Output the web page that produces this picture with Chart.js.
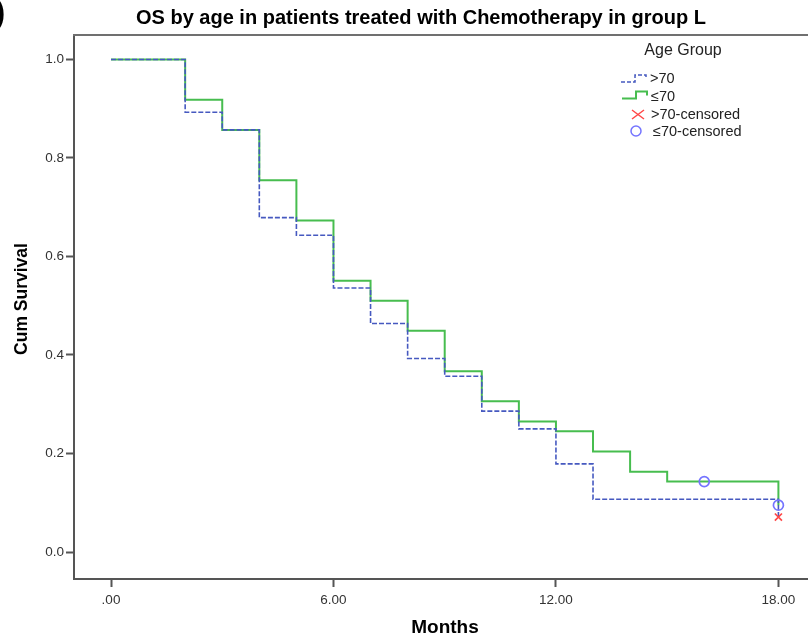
<!DOCTYPE html>
<html>
<head>
<meta charset="utf-8">
<script src="https://cdn.jsdelivr.net/npm/chart.js@4.4.0/dist/chart.umd.min.js"></script>
<style>
  html, body { margin: 0; padding: 0; background: #fff; overflow: hidden; }
  #wrap { position: relative; width: 808px; height: 639px; overflow: hidden; }
  canvas { position: absolute; left: 0; top: 0; }
</style>
</head>
<body>
<div id="wrap"><canvas id="km" width="850" height="639"></canvas></div>
<script>
const chartTitle = 'OS by age in patients treated with Chemotherapy in group L';
const xTitle = 'Months';
const yTitle = 'Cum Survival';
const legendTitle = 'Age Group';
const seriesLabels = ['>70', '≤70', '>70-censored', '≤70-censored'];

// Kaplan-Meier steps
const monthsOver70 = [0, 2, 3, 4, 5, 6, 7, 8, 9, 10, 11, 12, 13, 18];
const survOver70 = [1.0, 0.893, 0.857, 0.679, 0.643, 0.536, 0.464, 0.393, 0.357, 0.286, 0.25, 0.179, 0.107, 0.071];
const monthsUnder70 = [0, 2, 3, 4, 5, 6, 7, 8, 9, 10, 11, 12, 13, 14, 15, 18];
const survUnder70 = [1.0, 0.918, 0.857, 0.755, 0.673, 0.551, 0.51, 0.449, 0.367, 0.306, 0.265, 0.245, 0.204, 0.163, 0.143, 0.095];

// censored cases
const censMonthsOver70 = [18];
const censSurvOver70 = [0.071];
const censMonthsUnder70 = [16, 18];
const censSurvUnder70 = [0.143, 0.095];

const xTickValues = [0, 6, 12, 18];
const xTickLabels = ['.00', '6.00', '12.00', '18.00'];
const yTickValues = [0, 0.2, 0.4, 0.6, 0.8, 1.0];

const blue = '#4659c0';
const green = '#47bd4f';
const red = '#ff4848';
const violet = '#7474ff';

const toPoints = (xs, ys) => xs.map((x, i) => ({ x: x, y: ys[i] }));

const overlay = {
  id: 'overlay',
  afterDraw(chart) {
    const ctx = chart.ctx;
    const a = chart.chartArea;
    ctx.save();

    // top edge of the frame
    ctx.strokeStyle = '#707070';
    ctx.lineWidth = 2;
    ctx.beginPath();
    ctx.moveTo(a.left - 1, a.top);
    ctx.lineTo(a.right, a.top);
    ctx.stroke();

    ctx.fillStyle = '#000';
    ctx.textBaseline = 'middle';

    // cut-off panel letter at the top left
    ctx.textAlign = 'left';
    ctx.font = 'bold 34px "Liberation Sans", Arial, sans-serif';
    ctx.fillText(')', -6, 14);

    ctx.textAlign = 'center';
    ctx.font = 'bold 20px "Liberation Sans", Arial, sans-serif';
    ctx.fillText(chartTitle, 421, 18);

    ctx.font = 'bold 19px "Liberation Sans", Arial, sans-serif';
    ctx.fillText(xTitle, 445, 628);
    ctx.font = 'bold 17.5px "Liberation Sans", Arial, sans-serif';
    ctx.save();
    ctx.translate(22, 299);
    ctx.rotate(-Math.PI / 2);
    ctx.fillText(yTitle, 0, 0);
    ctx.restore();

    // legend
    ctx.fillStyle = '#222';
    ctx.font = '16px "Liberation Sans", Arial, sans-serif';
    ctx.fillText(legendTitle, 683, 50.5);

    const stepIcon = (x, y, color, dash) => {
      ctx.save();
      ctx.strokeStyle = color;
      ctx.lineWidth = dash ? 1.5 : 2;
      ctx.setLineDash(dash ? [4, 2] : []);
      ctx.beginPath();
      ctx.moveTo(x, y);
      ctx.lineTo(x + 14, y);
      ctx.lineTo(x + 14, y - 7);
      ctx.lineTo(x + 25, y - 7);
      ctx.lineTo(x + 25, y - 3);
      ctx.stroke();
      ctx.restore();
    };
    stepIcon(621, 82, blue, true);
    stepIcon(622, 98.5, green, false);

    ctx.save();
    ctx.strokeStyle = red;
    ctx.lineWidth = 1.5;
    ctx.beginPath();
    ctx.moveTo(632, 110); ctx.lineTo(644, 119);
    ctx.moveTo(644, 110); ctx.lineTo(632, 119);
    ctx.stroke();
    ctx.strokeStyle = violet;
    ctx.beginPath();
    ctx.arc(636, 131, 5, 0, Math.PI * 2);
    ctx.stroke();
    ctx.restore();

    ctx.textAlign = 'left';
    ctx.font = '14.5px "Liberation Sans", Arial, sans-serif';
    ctx.fillText(seriesLabels[0], 650, 78.5);
    ctx.fillText(seriesLabels[1], 651, 96.5);
    ctx.fillText(seriesLabels[2], 651, 114.5);
    ctx.fillText(seriesLabels[3], 653, 131.5);

    ctx.restore();
  }
};

const tickFont = { family: '"Liberation Sans", Arial, sans-serif', size: 13.5 };

new Chart(document.getElementById('km'), {
  type: 'scatter',
  data: {
    datasets: [
      {
        label: seriesLabels[3],
        data: toPoints(censMonthsUnder70, censSurvUnder70),
        pointStyle: 'circle',
        pointRadius: 5,
        borderColor: violet,
        backgroundColor: 'rgba(0,0,0,0)',
        borderWidth: 1.7,
        showLine: false
      },
      {
        label: seriesLabels[2],
        data: toPoints(censMonthsOver70, censSurvOver70),
        pointStyle: 'crossRot',
        pointRadius: 5,
        borderColor: red,
        borderWidth: 1.7,
        showLine: false
      },
      {
        label: seriesLabels[0],
        data: toPoints(monthsOver70, survOver70),
        showLine: true,
        stepped: true,
        borderColor: blue,
        borderWidth: 1.6,
        borderDash: [5, 2],
        pointRadius: 0
      },
      {
        label: seriesLabels[1],
        data: toPoints(monthsUnder70, survUnder70),
        showLine: true,
        stepped: true,
        borderColor: green,
        borderWidth: 2,
        pointRadius: 0
      }
    ]
  },
  options: {
    responsive: false,
    animation: false,
    devicePixelRatio: 1,
    layout: { padding: { top: 35, left: 0, right: 0, bottom: 0 } },
    plugins: {
      legend: { display: false },
      tooltip: { enabled: false },
      title: { display: false }
    },
    scales: {
      x: {
        type: 'linear',
        min: -0.998,
        max: 19.75,
        afterBuildTicks: (scale) => { scale.ticks = xTickValues.map(v => ({ value: v })); },
        afterFit: (scale) => { scale.height = 60; },
        ticks: {
          font: tickFont,
          color: '#333',
          padding: 5,
          maxRotation: 0,
          autoSkip: false,
          callback: (v) => xTickLabels[xTickValues.indexOf(v)]
        },
        grid: { drawOnChartArea: false, drawTicks: true, tickLength: 8, tickWidth: 2, tickColor: '#555' },
        border: { display: true, color: '#555', width: 2 }
      },
      y: {
        type: 'linear',
        min: -0.0548,
        max: 1.0497,
        afterBuildTicks: (scale) => { scale.ticks = yTickValues.map(v => ({ value: v })); },
        afterFit: (scale) => { scale.width = 74; },
        ticks: {
          font: tickFont,
          color: '#333',
          padding: 2,
          autoSkip: false,
          callback: (v) => v.toFixed(1)
        },
        grid: { drawOnChartArea: false, drawTicks: true, tickLength: 8, tickWidth: 2, tickColor: '#555' },
        border: { display: true, color: '#555', width: 2 }
      }
    }
  },
  plugins: [overlay]
});
</script>
</body>
</html>
